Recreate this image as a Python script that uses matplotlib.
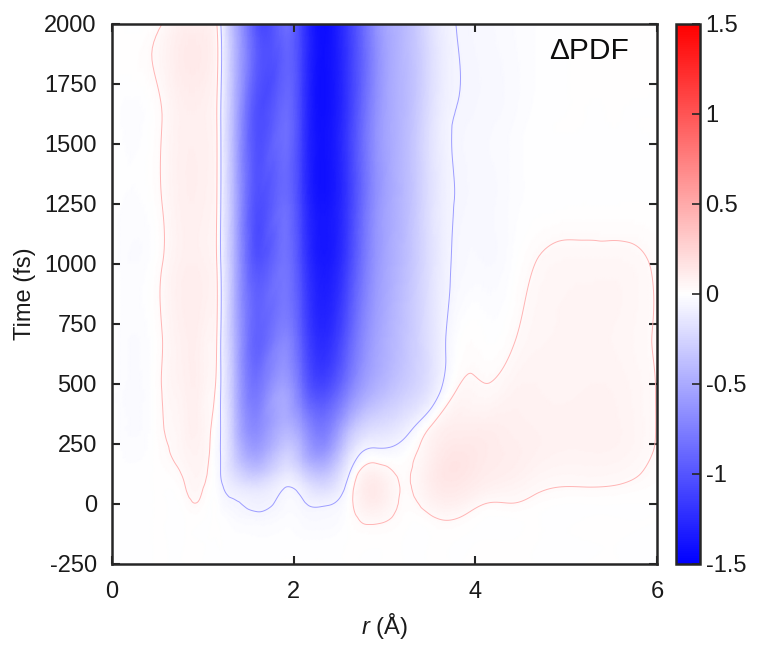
import numpy as np
import matplotlib
matplotlib.use("Agg")
import matplotlib.pyplot as plt
import matplotlib.tri as mtri

plt.rcParams['font.family'] = ['Liberation Sans', 'DejaVu Sans']
plt.rcParams['mathtext.fontset'] = 'custom'
plt.rcParams['mathtext.it'] = 'Liberation Sans:italic'
plt.rcParams['mathtext.rm'] = 'Liberation Sans'
plt.rcParams['axes.unicode_minus'] = False

# grid nodes
r_nodes = [0.0, 0.45, 0.6, 0.8, 0.95, 1.1, 1.15, 1.2, 1.35, 1.6, 1.9, 2.1,
           2.35, 2.6, 2.9, 3.2, 3.5, 3.8, 4.1, 4.4, 4.7, 5.2, 5.6, 6.0]
t_nodes = [-250, -150, -60, 0, 60, 130, 220, 320, 480, 700, 1000, 1250, 1600, 2000]

# dPDF values, one row per time node (columns follow r_nodes)
dpdf = [
    [0, 0, 0, 0, 0, 0, 0, 0, 0, 0, 0, 0, 0, 0, 0, 0, 0, 0, 0, 0, 0, 0, 0, 0],
    [0, 0, 0, 0, 0, 0, 0, 0, -0.005, -0.01, -0.005, -0.01, -0.01, 0, 0.005, 0, 0, 0, 0, 0, 0, 0, 0, 0],
    [0, 0, 0, 0, 0.005, 0, 0, -0.005, -0.025, -0.04, -0.02, -0.03, -0.035, 0, 0.05, 0.01, 0.02, 0.03, 0, 0, 0, 0, 0, 0],
    [0, 0, 0, 0.01, 0.025, 0, 0, -0.02, -0.05, -0.08, -0.035, -0.05, -0.07, 0, 0.1, 0.02, 0.06, 0.08, 0.03, 0.028, 0.01, 0, 0, 0],
    [0, 0, 0, 0.025, 0.045, 0, -0.01, -0.04, -0.1, -0.14, -0.055, -0.1, -0.18, -0.02, 0.12, 0.025, 0.09, 0.12, 0.08, 0.06, 0.035, 0.025, 0.02, 0.005],
    [0, 0, 0.01, 0.04, 0.06, 0.005, -0.02, -0.065, -0.2, -0.33, -0.15, -0.25, -0.35, -0.08, 0.08, 0.02, 0.1, 0.15, 0.11, 0.09, 0.06, 0.05, 0.045, 0.015],
    [0, 0, 0.025, 0.06, 0.07, 0.01, -0.03, -0.065, -0.3, -0.55, -0.3, -0.45, -0.6, -0.22, -0.04, -0.02, 0.08, 0.14, 0.12, 0.1, 0.08, 0.07, 0.065, 0.025],
    [0, 0, 0.035, 0.07, 0.08, 0.025, -0.015, -0.065, -0.36, -0.68, -0.45, -0.6, -0.78, -0.42, -0.2, -0.12, 0.03, 0.1, 0.1, 0.09, 0.08, 0.075, 0.07, 0.028],
    [0, 0, 0.045, 0.08, 0.085, 0.045, 0.015, -0.065, -0.4, -0.8, -0.55, -0.85, -1.05, -0.75, -0.45, -0.3, -0.15, 0.03, 0.035, 0.065, 0.07, 0.07, 0.065, 0.028],
    [0, 0, 0.045, 0.09, 0.09, 0.06, 0.035, -0.065, -0.43, -0.92, -0.72, -1.0, -1.25, -0.95, -0.55, -0.36, -0.17, -0.01, 0.0, 0.02, 0.055, 0.06, 0.055, 0.025],
    [0, 0, 0.045, 0.09, 0.09, 0.07, 0.035, -0.065, -0.45, -1.0, -0.82, -1.1, -1.35, -1.1, -0.62, -0.4, -0.18, -0.045, -0.035, -0.01, 0.035, 0.05, 0.05, 0.02],
    [0, 0.005, 0.045, 0.09, 0.09, 0.07, 0.035, -0.065, -0.45, -1.03, -0.86, -1.15, -1.38, -1.15, -0.65, -0.42, -0.18, -0.055, -0.04, -0.02, -0.005, 0, 0, 0],
    [0, 0.005, 0.045, 0.09, 0.09, 0.07, 0.035, -0.065, -0.45, -1.03, -0.86, -1.15, -1.4, -1.15, -0.65, -0.42, -0.18, -0.055, -0.04, -0.025, -0.005, 0, 0, 0],
    [0, 0.005, 0.045, 0.09, 0.09, 0.07, 0.035, -0.065, -0.45, -1.03, -0.86, -1.15, -1.42, -1.15, -0.65, -0.42, -0.18, -0.058, -0.04, -0.025, -0.01, 0, 0, 0],
]

cbar_ticks = [-1.5, -1, -0.5, 0, 0.5, 1, 1.5]
cbar_labels = ['-1.5', '-1', '-0.5', '0', '0.5', '1', '1.5']
y_ticks = list(range(-250, 2001, 250))
x_ticks = [0, 2, 4, 6]

# triangulate the grid and let matplotlib refine it smoothly
R, T = np.meshgrid(r_nodes, t_nodes)
Z = np.array(dpdf, dtype=float)
ni, nj = Z.shape
idx = np.arange(ni * nj).reshape(ni, nj)
a = idx[:-1, :-1].ravel()
b = idx[:-1, 1:].ravel()
c = idx[1:, 1:].ravel()
d = idx[1:, :-1].ravel()
tris = np.concatenate([np.stack([a, b, c], 1), np.stack([a, c, d], 1)])
tri = mtri.Triangulation(R.ravel(), T.ravel(), tris)
refiner = mtri.UniformTriRefiner(tri)
tri_f, z_f = refiner.refine_field(Z.ravel(), subdiv=4)

fig = plt.figure(figsize=(7.59, 6.45), dpi=100)
ax = fig.add_axes([0.1476, 0.1256, 0.718, 0.8372])
cax = fig.add_axes([0.8906, 0.1256, 0.0316, 0.8372])

tpc = ax.tripcolor(tri_f, z_f, shading='gouraud', cmap='bwr', vmin=-1.5, vmax=1.5,
                   rasterized=True)
ax.tricontour(tri_f, z_f, levels=[-0.06], colors=['#9d9dff'], linewidths=0.7,
              linestyles='solid')
ax.tricontour(tri_f, z_f, levels=[0.03], colors=['#ffb4b4'], linewidths=0.7,
              linestyles='solid')

ax.set_xlim(0, 6)
ax.set_ylim(-250, 2000)
ax.set_xticks(x_ticks)
ax.set_yticks(y_ticks)
ax.tick_params(direction='in', top=True, right=True, labelsize=17,
               length=6, width=1.5, colors='0.15')
ax.tick_params(axis='x', pad=12)
ax.tick_params(axis='y', pad=11)
ax.tick_params(labelcolor='0.1')
for s in ax.spines.values():
    s.set_linewidth(1.8)
    s.set_color('0.15')
ax.set_xlabel(r'$\mathit{r}$ (Å)', fontsize=17, color='0.1', labelpad=6)
ax.set_ylabel('Time (fs)', fontsize=17, color='0.1', labelpad=6)
ax.text(0.948, 0.975, 'ΔPDF', transform=ax.transAxes, ha='right', va='top',
        fontsize=21.5, color='0.05')

cb = fig.colorbar(tpc, cax=cax)
cb.set_ticks(cbar_ticks)
cb.set_ticklabels(cbar_labels)
cb.ax.tick_params(direction='in', labelsize=17, length=6, width=1.2,
                  colors='0.15', labelcolor='0.1', pad=4)
cb.outline.set_linewidth(1.8)
cb.outline.set_edgecolor('0.15')

fig.savefig('out.png', dpi=100)
